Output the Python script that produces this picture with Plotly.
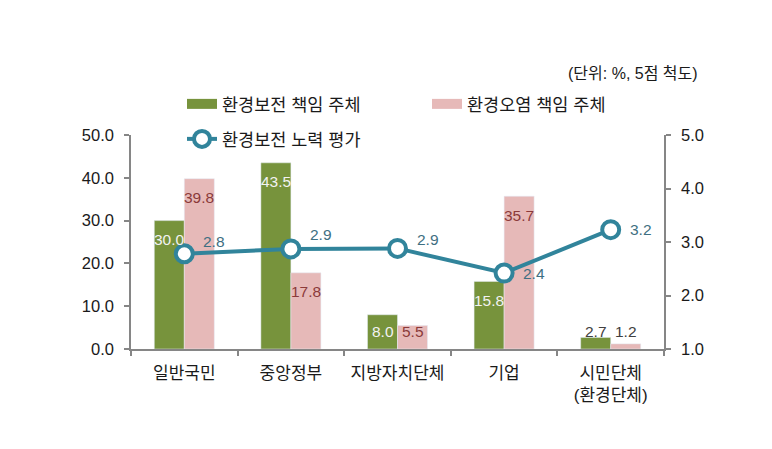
import plotly.graph_objects as go

categories = ["일반국민", "중앙정부", "지방자치단체", "기업", "시민단체<br>(환경단체)"]
conservation_resp = [30.0, 43.5, 8.0, 15.8, 2.7]
pollution_resp = [39.8, 17.8, 5.5, 35.7, 1.2]
effort_score = [2.78, 2.87, 2.88, 2.42, 3.23]
left_ticks = [0, 10, 20, 30, 40, 50]
right_ticks = [1, 2, 3, 4, 5]

GREEN = "#77933C"
PINK = "#E6B9B8"
TEAL = "#31849B"
FONT = "Liberation Sans, Noto Sans CJK KR, sans-serif"

W, H = 772, 449
OFF = 8  # page body margin
PL, PT, PW, PH = 131, 135, 533, 214  # target plot box on screen
L, T = PL - OFF, PT - OFF
R, B = W - L - PW, H - T - PH
px2val = 50 / PH


def px_x(sx):
    return (sx - PL) / PW


def px_y(sy):
    return (PT + PH - sy) / PH


fig = go.Figure()
fig.add_trace(go.Bar(x=categories, y=conservation_resp, marker_color=GREEN,
                     showlegend=False, yaxis="y", offsetgroup="a"))
fig.add_trace(go.Bar(x=categories, y=pollution_resp, marker_color=PINK,
                     showlegend=False, yaxis="y", offsetgroup="b"))
fig.add_trace(go.Scatter(x=categories, y=effort_score, yaxis="y2", mode="lines+markers",
                         line=dict(color=TEAL, width=4),
                         marker=dict(size=17, color="white", line=dict(color=TEAL, width=4)),
                         name="환경보전 노력 평가", legend="legend2"))
# legend swatches for the bar series
fig.add_trace(go.Scatter(x=[None], y=[None], mode="lines", line=dict(color=GREEN, width=10),
                         name="환경보전 책임 주체", legend="legend"))
fig.add_trace(go.Scatter(x=[None], y=[None], mode="lines", line=dict(color=PINK, width=10),
                         name="환경오염 책임 주체", legend="legend"))

annotations = []
label_min = 18 * px2val
for series, shift, inside_col in [(conservation_resp, -15, "#F2F2F2"), (pollution_resp, 15, "#8B3A3A")]:
    for c, v in zip(categories, series):
        yl = max(v - 19 * px2val, label_min)
        col = inside_col if v >= label_min else "#404040"
        annotations.append(dict(x=c, y=yl, xref="x", yref="y", xshift=shift, text=f"{v:.1f}",
                                showarrow=False, font=dict(size=15.5, color=col, family=FONT)))

label_dy = [12, 14, 9, 0, 0]
for c, v, dy in zip(categories, effort_score, label_dy):
    annotations.append(dict(x=c, y=v, xref="x", yref="y2", xshift=30, yshift=dy, text=f"{v:.1f}",
                            showarrow=False, font=dict(size=15.5, color="#3E6F82", family=FONT)))

annotations.append(dict(x=px_x(700), y=px_y(74), xref="paper", yref="paper",
                        xanchor="right", yanchor="middle", text="(단위: %, 5점 척도)", showarrow=False,
                        font=dict(size=16, color="#1a1a1a", family=FONT)))

fig.update_layout(
    width=W, height=H, margin=dict(l=L, r=R, t=T, b=B),
    plot_bgcolor="white", paper_bgcolor="white",
    font=dict(family=FONT, size=15, color="#1a1a1a"),
    barmode="group", bargap=0.437, bargroupgap=0,
    xaxis=dict(type="category", showline=True, linecolor="#868686", linewidth=1.5,
               ticks="outside", tickson="boundaries", ticklen=5, tickcolor="#868686", tickwidth=1.5,
               tickfont=dict(size=17), ticklabelstandoff=8),
    yaxis=dict(range=[0, 50], tickvals=left_ticks, tickformat=".1f", showline=True,
               linecolor="#868686", linewidth=1.5, ticks="outside", ticklen=5,
               tickcolor="#868686", tickwidth=1.5, showgrid=False, zeroline=False,
               tickfont=dict(size=16.5), ticklabelstandoff=7),
    yaxis2=dict(range=[1, 5], tickvals=right_ticks, tickformat=".1f", overlaying="y", side="right",
                showline=True, linecolor="#868686", linewidth=1.5, ticks="outside", ticklen=5,
                tickcolor="#868686", tickwidth=1.5, showgrid=False, zeroline=False,
                tickfont=dict(size=16.5), ticklabelstandoff=7),
    legend=dict(orientation="h", x=px_x(182), xanchor="left",
                y=px_y(104), yanchor="middle", entrywidth=200,
                font=dict(size=17.5), bgcolor="rgba(0,0,0,0)"),
    legend2=dict(orientation="h", x=px_x(182), xanchor="left",
                 y=px_y(139), yanchor="middle",
                 font=dict(size=17.5), bgcolor="rgba(0,0,0,0)"),
    annotations=annotations,
)

fig.write_html("out.html")
